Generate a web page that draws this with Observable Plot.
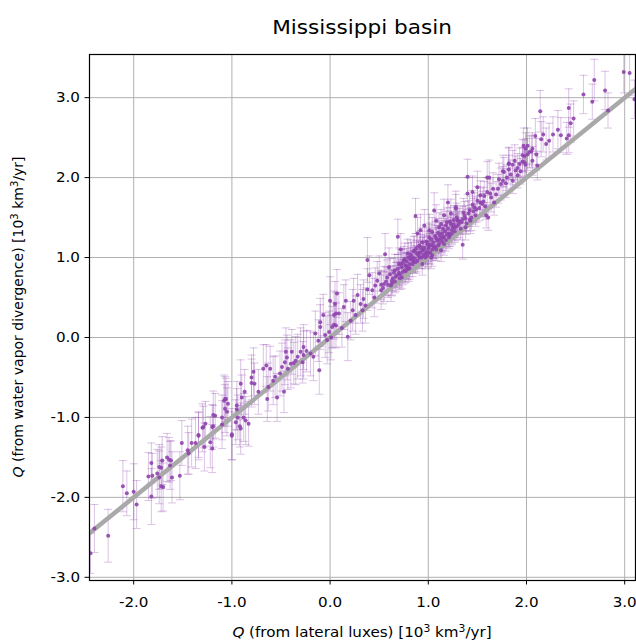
<!DOCTYPE html>
<html><head><meta charset="utf-8">
<script src="https://cdn.jsdelivr.net/npm/d3@7"></script>
<script src="https://cdn.jsdelivr.net/npm/@observablehq/plot@0.6"></script>
<style>body{margin:0;background:#fff;} svg{display:block;}</style>
</head><body><div id="chart"></div>
<script>
const title = "Mississippi basin";
const xLabelParts = ["Q", " (from lateral luxes) [10", "3", " km", "3", "/yr]"];
const yLabelParts = ["Q", " (from water vapor divergence) [10", "3", " km", "3", "/yr]"];
const xTicks = [-2, -1, 0, 1, 2, 3];
const yTicks = [-3, -2, -1, 0, 1, 2, 3];
const xDomain = [-2.45, 3.11];
const yDomain = [-3.04, 3.54];

// [Q lateral, Q vapor divergence, error]
const lowerPoints = [
[-2.44,-2.70,0.25],[-2.40,-2.39,0.30],[-2.26,-2.48,0.33],[-2.11,-1.86,0.32],[-2.07,-1.95,0.28],
[-2.00,-1.93,0.35],[-1.97,-2.09,0.30],[-1.85,-1.74,0.30],[-1.82,-1.57,0.25],[-1.81,-1.73,0.28],
[-1.82,-1.99,0.35],[-1.76,-1.70,0.30],[-1.74,-1.62,0.28],[-1.74,-1.75,0.33],[-1.72,-1.63,0.26],
[-1.71,-1.54,0.30],[-1.72,-1.86,0.32],[-1.70,-1.87,0.30],[-1.66,-1.50,0.30],[-1.64,-1.53,0.28],
[-1.63,-1.60,0.30],[-1.62,-1.54,0.25],[-1.61,-1.75,0.32],[-1.53,-1.73,0.30],[-1.51,-1.32,0.28],
[-1.45,-1.41,0.30],[-1.44,-1.45,0.26],[-1.41,-1.32,0.30],[-1.37,-1.32,0.32],[-1.34,-1.22,0.28],
[-1.34,-1.23,0.30],[-1.30,-1.13,0.30],[-1.29,-1.12,0.26],[-1.28,-1.37,0.30],[-1.27,-1.08,0.28],
[-1.22,-1.31,0.32],[-1.20,-1.39,0.30],[-1.20,-1.12,0.28],[-1.19,-0.97,0.30],[-1.19,-1.11,0.26],
[-1.17,-0.98,0.28],[-1.10,-1.09,0.30],[-1.10,-1.00,0.28],[-1.08,-0.79,0.32],[-1.07,-0.89,0.30],
[-1.07,-0.77,0.28],[-1.06,-0.77,0.26],[-1.05,-0.93,0.30],[-1.04,-0.83,0.28],[-1.00,-1.21,0.32],
[-1.00,-1.23,0.30],[-0.96,-1.06,0.28],[-0.95,-0.90,0.26],[-0.95,-0.85,0.30],[-0.94,-1.00,0.28],
[-0.92,-1.11,0.26],[-0.91,-0.58,0.30],[-0.91,-1.14,0.32],[-0.90,-0.75,0.28],[-0.88,-1.00,0.30],
[-0.87,-0.68,0.28],[-0.86,-1.04,0.30],[-0.83,-1.08,0.28],[-0.80,-0.57,0.30]
];
const middlePoints = [
[-0.80,-0.50,0.28],[-0.78,-0.43,0.30],[-0.77,-0.58,0.26],[-0.73,-0.68,0.28],[-0.68,-0.39,0.30],
[-0.65,-0.35,0.26],[-0.64,-0.77,0.28],[-0.63,-0.62,0.30],[-0.61,-0.39,0.28],[-0.58,-0.54,0.30],
[-0.56,-0.49,0.26],[-0.54,-0.75,0.30],[-0.51,-0.45,0.28],[-0.49,-0.37,0.30],[-0.47,-0.68,0.26],
[-0.46,-0.31,0.28],[-0.45,-0.18,0.30],[-0.44,-0.25,0.28],[-0.43,-0.39,0.26],[-0.40,-0.33,0.30],
[-0.39,-0.18,0.28],[-0.37,-0.32,0.26],[-0.35,-0.29,0.30],[-0.33,-0.24,0.28],[-0.30,-0.18,0.30],
[-0.28,-0.31,0.26],[-0.27,-0.12,0.28],[-0.27,-0.22,0.30],[-0.24,-0.17,0.26],[-0.20,-0.20,0.28],
[-0.17,-0.24,0.30],[-0.15,0.05,0.28],[-0.12,-0.04,0.26],[-0.11,-0.41,0.30],[-0.10,0.13,0.28],
[-0.10,0.19,0.30],[-0.07,0.28,0.26],[-0.05,0.03,0.28],[-0.03,-0.03,0.30],[-0.01,0.07,0.26],
[0.00,0.46,0.30],[0.01,0.00,0.28],[0.02,0.13,0.26],[0.04,0.16,0.28],[0.04,0.28,0.30],
[0.05,0.42,0.28],[0.06,0.30,0.26],[0.06,0.15,0.28],[0.07,0.55,0.30],[0.09,0.30,0.26],
[0.12,0.12,0.24],[0.14,0.38,0.28],[0.16,0.46,0.26],[0.18,0.01,0.30],[0.21,0.21,0.24],
[0.23,0.34,0.26],[0.24,0.46,0.28],[0.26,0.28,0.24],[0.28,0.53,0.26],[0.31,0.42,0.24],
[0.33,0.34,0.26],[0.34,0.48,0.24],[0.36,0.40,0.22],[0.38,0.60,0.26],[0.38,0.97,0.28],
[0.40,0.78,0.24],[0.43,0.59,0.22],[0.45,0.50,0.24],[0.46,0.65,0.22],[0.48,0.71,0.24],
[0.50,0.80,0.22],[0.52,0.59,0.24],[0.55,0.67,0.22],[0.56,1.04,0.26],[0.58,0.75,0.22],
[0.60,0.88,0.24]
];
const clusterPoints = [
[0.62,0.65,0.20],[0.63,0.71,0.18],[0.66,0.84,0.20],[0.68,0.78,0.16],[0.69,1.26,0.22],
[0.72,1.10,0.20],[0.72,0.92,0.18],[0.74,0.82,0.16],[0.75,0.96,0.18],[0.77,0.90,0.16],
[0.79,1.05,0.18],[0.80,0.86,0.16],[0.82,0.98,0.14],[0.84,0.92,0.16],[0.86,1.09,0.18],
[0.87,1.52,0.22],[0.89,1.30,0.20],[0.91,1.00,0.14],[0.92,1.13,0.16],[0.92,1.34,0.20],
[0.94,0.92,0.14],[0.96,1.40,0.20],[0.97,1.05,0.14],[0.99,1.17,0.16],[1.01,1.25,0.18],
[1.01,1.34,0.20],[1.03,1.00,0.14],[1.04,1.32,0.18],[1.06,1.13,0.16],[1.06,1.59,0.22],
[1.08,1.46,0.20],[1.09,1.21,0.16],[1.11,1.38,0.18],[1.13,1.09,0.14],[1.13,1.42,0.18],
[1.14,1.30,0.16],[1.16,1.17,0.14],[1.16,1.53,0.20],[1.19,1.44,0.18],[1.20,1.69,0.22],
[1.21,1.30,0.16],[1.23,1.55,0.18],[1.23,1.42,0.16],[1.25,1.38,0.16],[1.28,1.61,0.18],
[1.28,1.63,0.20],[1.30,1.46,0.16],[1.30,1.47,0.18],[1.35,1.16,0.18],[1.38,1.38,0.16],
[1.40,2.01,0.22],[1.40,1.80,0.20],[1.42,1.59,0.18],[1.43,1.46,0.16],[1.45,1.82,0.20],
[1.47,1.63,0.18],[1.50,1.71,0.18],[1.50,1.88,0.20],[1.53,1.78,0.18],[1.55,1.67,0.16],
[1.59,1.53,0.16],[1.60,1.82,0.18],[1.60,2.00,0.20],[1.61,1.50,0.16],[1.62,2.00,0.22],
[0.64,0.74,0.16],[0.67,0.76,0.18],[0.70,0.81,0.16],[0.71,0.74,0.14],[0.73,0.88,0.18],
[0.76,0.84,0.16],[0.78,0.95,0.16],[0.79,0.86,0.14],[0.81,0.92,0.16],[0.83,1.01,0.18],
[0.85,0.95,0.14],[0.86,0.99,0.16],[0.88,1.05,0.16],[0.89,0.96,0.14],[0.90,1.06,0.16],
[0.93,1.00,0.14],[0.94,1.09,0.16],[0.95,1.03,0.14],[0.96,1.12,0.16],[0.98,1.07,0.14],
[0.99,1.02,0.14],[1.00,1.11,0.16],[1.02,1.06,0.14],[1.02,1.16,0.16],[1.04,1.10,0.14],
[1.05,1.19,0.16],[1.07,1.13,0.14],[1.08,1.24,0.16],[1.10,1.15,0.14],[1.11,1.22,0.16],
[1.12,1.28,0.16],[1.14,1.20,0.14],[1.15,1.25,0.16],[1.17,1.33,0.16],[1.18,1.22,0.14],
[1.20,1.36,0.16],[1.22,1.28,0.14],[1.24,1.34,0.16],[1.26,1.41,0.16],[1.27,1.33,0.14],
[1.29,1.39,0.16],[1.32,1.45,0.16],[1.33,1.36,0.14],[1.35,1.48,0.16],[1.37,1.52,0.18],
[1.39,1.43,0.14],[1.41,1.55,0.16],[1.44,1.50,0.16],[1.46,1.58,0.16],[1.48,1.53,0.14],
[1.52,1.62,0.16],[1.56,1.70,0.18],[1.58,1.64,0.16]
];
const denseCorePoints = [
[0.52,0.66,0.18],[0.54,0.62,0.20],[0.57,0.70,0.18],[0.59,0.66,0.16],[0.61,0.79,0.20],
[0.63,0.68,0.16],[0.65,0.81,0.18],[0.66,0.70,0.14],[0.69,0.86,0.18],[0.70,0.92,0.20],
[0.71,0.79,0.16],[0.73,0.75,0.14],[0.74,0.93,0.18],[0.76,0.98,0.20],[0.77,0.83,0.14],
[0.78,0.89,0.16],[0.80,1.00,0.18],[0.81,0.87,0.14],[0.82,1.04,0.18],[0.84,0.97,0.16],
[0.85,1.08,0.18],[0.87,0.94,0.14],[0.88,1.12,0.18],[0.90,1.03,0.16],[0.91,1.15,0.18],
[0.92,1.06,0.14],[0.94,1.19,0.18],[0.95,1.10,0.16],[0.97,1.00,0.14],[0.98,1.20,0.18],
[1.00,1.06,0.14],[1.01,1.14,0.16],[1.03,1.23,0.18],[1.04,1.03,0.14],[1.05,1.15,0.16],
[1.07,1.27,0.18],[1.08,1.10,0.14],[1.10,1.31,0.18],[1.11,1.17,0.14],[1.13,1.24,0.16],
[1.15,1.36,0.18],[1.16,1.26,0.14],[1.18,1.40,0.18],[1.19,1.29,0.16],[1.21,1.25,0.14],
[1.22,1.45,0.18],[1.24,1.30,0.14],[1.26,1.47,0.18],[1.27,1.37,0.16],[1.29,1.50,0.18],
[1.31,1.41,0.16],[1.34,1.44,0.14],[1.36,1.56,0.18],[1.38,1.49,0.16],[1.42,1.47,0.14],
[1.45,1.66,0.18],[1.49,1.60,0.16],[1.53,1.69,0.18],[1.57,1.77,0.18]
];
const upperPoints = [
[1.63,1.80,0.18],[1.66,1.86,0.20],[1.69,1.79,0.16],[1.72,1.98,0.20],[1.79,1.93,0.18],
[1.84,2.04,0.18],[1.88,2.21,0.20],[1.94,2.08,0.16],
[1.64,1.75,0.18],[1.67,1.69,0.16],[1.71,1.86,0.18],[1.74,1.92,0.20],[1.76,1.96,0.18],
[1.76,2.08,0.20],[1.77,2.07,0.18],[1.80,2.00,0.16],[1.82,2.17,0.20],[1.82,2.10,0.18],
[1.82,2.18,0.20],[1.86,1.96,0.16],[1.86,2.16,0.18],[1.89,2.09,0.18],[1.91,2.03,0.16],
[1.91,2.12,0.18],[1.93,2.17,0.20],[1.96,2.28,0.20],[1.96,2.20,0.18],[1.97,2.40,0.22],
[1.98,2.19,0.18],[1.98,2.27,0.20],[1.99,2.36,0.20],[1.99,2.16,0.16],[2.01,2.40,0.22],
[2.01,2.29,0.20],[2.03,2.32,0.20],[2.05,2.33,0.20],[2.06,2.21,0.18],[2.06,2.36,0.20],
[2.09,2.52,0.22],[2.10,2.29,0.20],[2.11,2.15,0.18],[2.14,2.83,0.26],[2.15,2.48,0.22],
[2.17,2.54,0.22],[2.20,2.42,0.20],[2.23,2.46,0.22],[2.27,2.54,0.22],[2.32,2.60,0.24],
[2.35,2.53,0.22],[2.41,2.49,0.20],[2.43,2.53,0.22],[2.43,2.87,0.24],[2.45,2.68,0.24],
[2.48,2.74,0.22],[2.58,3.04,0.24],[2.67,2.95,0.22],[2.69,3.22,0.26],[2.80,3.09,0.24],
[2.83,2.84,0.22],[2.99,3.32,0.26],[3.05,3.31,0.28],[3.10,2.98,0.24]
];

const rows = [...lowerPoints, ...middlePoints, ...clusterPoints, ...denseCorePoints, ...upperPoints]
  .map(([x, y, e]) => ({x, y, lo: y - e, hi: y + e}));
const diag = xDomain.map(v => ({x: v, y: v}));

const capSymbol = {draw(ctx, size) {
  const w = Math.sqrt(size / Math.PI);
  ctx.moveTo(-w, 0); ctx.lineTo(w, 0);
}};
const purple = "#8e44ad";
const fmt = d => d.toFixed(1);
const FONT = "DejaVu Sans, sans-serif";
const stretch = 1.08;

const W = 636, H = 642, mL = 89, mR = 1, mT = 54, mB = 62;
const plot = Plot.plot({
  width: W, height: H,
  marginTop: mT, marginBottom: mB, marginLeft: mL, marginRight: mR,
  style: {fontFamily: FONT, fontSize: "14px", background: "#fff", color: "#000"},
  x: {domain: xDomain, ticks: xTicks, tickFormat: fmt, label: null, tickSize: 4.5, tickPadding: 12},
  y: {domain: yDomain, ticks: yTicks, tickFormat: fmt, label: null, tickSize: 4.5, tickPadding: 5},
  marks: [
    Plot.gridX(xTicks, {stroke: "#b0b0b0", strokeOpacity: 1, strokeWidth: 1}),
    Plot.gridY(yTicks, {stroke: "#b0b0b0", strokeOpacity: 1, strokeWidth: 1}),
    Plot.ruleX(rows, {x: "x", y1: "lo", y2: "hi", stroke: purple, strokeOpacity: 0.32, strokeWidth: 1, clip: true}),
    Plot.dot(rows, {x: "x", y: "lo", symbol: capSymbol, r: 4, stroke: purple, strokeOpacity: 0.32, strokeWidth: 1, clip: true}),
    Plot.dot(rows, {x: "x", y: "hi", symbol: capSymbol, r: 4, stroke: purple, strokeOpacity: 0.32, strokeWidth: 1, clip: true}),
    Plot.line(diag, {x: "x", y: "y", stroke: "#a9a9a9", strokeWidth: 4.5, clip: true}),
    Plot.dot(rows, {x: "x", y: "y", r: 2, fill: purple, fillOpacity: 0.9, stroke: null, clip: true}),
    Plot.frame({stroke: "#000", strokeWidth: 1.2})
  ]
});
document.getElementById("chart").append(plot);

const svg = d3.select(plot);
// widen tick labels slightly to match the reference's proportions
svg.selectAll("g[aria-label$='tick label'] text").each(function() {
  const t = this.getAttribute("transform") || "";
  this.setAttribute("transform", t + ` scale(${stretch},1)`);
});

const cx = (mL + W - mR) / 2;
const cy = (mT + H - mB) / 2;
svg.append("text").attr("transform", `translate(${cx},34) scale(${stretch},1)`).attr("text-anchor", "middle")
  .attr("font-family", FONT).attr("font-size", 20).attr("fill", "#000").text(title);

function addLabel(parts, transform) {
  const t = svg.append("text").attr("transform", transform).attr("text-anchor", "middle")
    .attr("font-family", FONT).attr("font-size", 14).attr("fill", "#000");
  parts.forEach((p, i) => {
    const s = t.append("tspan").text(p);
    if (i === 0) s.attr("font-style", "italic");
    if (p === "3") s.attr("font-size", 10).attr("dy", -5);
    else if (i > 1 && parts[i - 1] === "3") s.attr("dy", 5);
  });
}
addLabel(xLabelParts, `translate(${cx},637) scale(${stretch},1)`);
addLabel(yLabelParts, `translate(23,${cy}) rotate(-90)`);
</script>
</body></html>
